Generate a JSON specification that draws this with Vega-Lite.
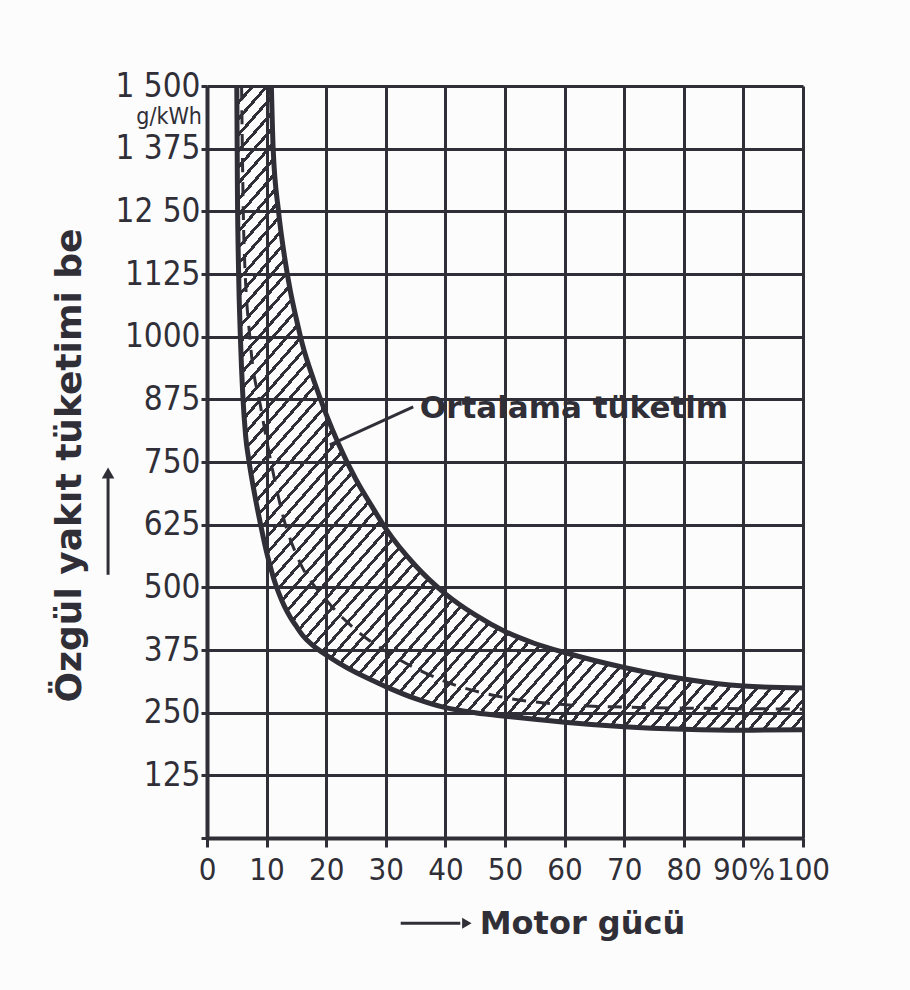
{
  "$schema": "https://vega.github.io/schema/vega-lite/v6.json",
  "width": 596,
  "height": 752,
  "autosize": {"type": "none"},
  "padding": {"left": 207, "top": 86, "right": 107, "bottom": 152},
  "background": "#fcfcfd",
  "config": {
    "view": {"stroke": null},
    "axis": {
      "grid": true, "gridColor": "#302f37", "gridWidth": 3, "gridOpacity": 1,
      "domainColor": "#302f37", "domainWidth": 4,
      "tickColor": "#302f37", "tickWidth": 3,
      "labelColor": "#302f37", "titleColor": "#302f37",
      "labelFont": "DejaVu Sans Condensed",
      "titleFont": "DejaVu Sans", "titleFontWeight": "bold",
      "labelFlush": false, "labelOverlap": false
    }
  },
  "datasets": {
    "band": [
      {"x": 5.0, "lo": 1500, "hi": 1500},
      {"x": 5.1, "lo": 1300, "hi": 1500},
      {"x": 5.3, "lo": 1130, "hi": 1500},
      {"x": 5.6, "lo": 1000, "hi": 1500},
      {"x": 6.0, "lo": 885, "hi": 1500},
      {"x": 6.5, "lo": 800, "hi": 1500},
      {"x": 7, "lo": 755, "hi": 1500},
      {"x": 8, "lo": 685, "hi": 1500},
      {"x": 9, "lo": 625, "hi": 1500},
      {"x": 10, "lo": 570, "hi": 1500},
      {"x": 10.8, "lo": 534, "hi": 1500},
      {"x": 11.1, "lo": 521, "hi": 1375},
      {"x": 12, "lo": 490, "hi": 1250},
      {"x": 13, "lo": 462, "hi": 1160},
      {"x": 14, "lo": 440, "hi": 1090},
      {"x": 15, "lo": 422, "hi": 1035},
      {"x": 16, "lo": 405, "hi": 985},
      {"x": 18, "lo": 382, "hi": 910},
      {"x": 20, "lo": 365, "hi": 845},
      {"x": 22, "lo": 350, "hi": 788},
      {"x": 25, "lo": 330, "hi": 715},
      {"x": 28, "lo": 313, "hi": 655},
      {"x": 30, "lo": 302, "hi": 617},
      {"x": 35, "lo": 278, "hi": 543},
      {"x": 40, "lo": 260, "hi": 487},
      {"x": 45, "lo": 250, "hi": 445},
      {"x": 50, "lo": 243, "hi": 412},
      {"x": 55, "lo": 237, "hi": 388},
      {"x": 60, "lo": 231, "hi": 370},
      {"x": 70, "lo": 222, "hi": 340},
      {"x": 80, "lo": 217, "hi": 317},
      {"x": 90, "lo": 215, "hi": 303},
      {"x": 100, "lo": 216, "hi": 299}
    ],
    "mean": [
      {"x": 5.8, "y": 1500},
      {"x": 6.2, "y": 1190},
      {"x": 7.3, "y": 985},
      {"x": 9, "y": 860},
      {"x": 10.9, "y": 740},
      {"x": 12.8, "y": 640},
      {"x": 15.5, "y": 552},
      {"x": 20, "y": 475},
      {"x": 25, "y": 415},
      {"x": 31, "y": 365},
      {"x": 40, "y": 312},
      {"x": 50, "y": 280},
      {"x": 60, "y": 266},
      {"x": 70, "y": 261},
      {"x": 80, "y": 259},
      {"x": 90, "y": 258},
      {"x": 100, "y": 257}
    ],
    "note": [{"x": 20.6, "y": 784, "x2": 34.6, "y2": 860, "label": "Ortalama tüketim", "tx": 35.7, "ty": 856}],
    "unit": [{"x": 0, "y": 1438, "label": "g/kWh"}],
    "yarrow": [{"x": -16.6, "y": 525, "y2": 718, "tip": 728}],
    "xarrow": [{"x": 32.5, "x2": 42.5, "y": -170, "tip": 43.6}]
  },
  "layer": [
    {
      "data": {"name": "band"},
      "mark": {
        "type": "area", "interpolate": "monotone", "clip": true,
        "fill": {
          "gradient": "linear", "x1": 0, "y1": 0, "x2": 1, "y2": 1,
          "stops": [
{"offset":0,"color":"rgba(255,255,255,0)"},{"offset":0,"color":"#302f37"},{"offset":0.0035,"color":"#302f37"},{"offset":0.0035,"color":"rgba(255,255,255,0)"},
{"offset":0.0125,"color":"rgba(255,255,255,0)"},{"offset":0.0125,"color":"#302f37"},{"offset":0.016,"color":"#302f37"},{"offset":0.016,"color":"rgba(255,255,255,0)"},
{"offset":0.025,"color":"rgba(255,255,255,0)"},{"offset":0.025,"color":"#302f37"},{"offset":0.0285,"color":"#302f37"},{"offset":0.0285,"color":"rgba(255,255,255,0)"},
{"offset":0.0375,"color":"rgba(255,255,255,0)"},{"offset":0.0375,"color":"#302f37"},{"offset":0.041,"color":"#302f37"},{"offset":0.041,"color":"rgba(255,255,255,0)"},
{"offset":0.05,"color":"rgba(255,255,255,0)"},{"offset":0.05,"color":"#302f37"},{"offset":0.0535,"color":"#302f37"},{"offset":0.0535,"color":"rgba(255,255,255,0)"},
{"offset":0.0625,"color":"rgba(255,255,255,0)"},{"offset":0.0625,"color":"#302f37"},{"offset":0.066,"color":"#302f37"},{"offset":0.066,"color":"rgba(255,255,255,0)"},
{"offset":0.075,"color":"rgba(255,255,255,0)"},{"offset":0.075,"color":"#302f37"},{"offset":0.0785,"color":"#302f37"},{"offset":0.0785,"color":"rgba(255,255,255,0)"},
{"offset":0.0875,"color":"rgba(255,255,255,0)"},{"offset":0.0875,"color":"#302f37"},{"offset":0.091,"color":"#302f37"},{"offset":0.091,"color":"rgba(255,255,255,0)"},
{"offset":0.1,"color":"rgba(255,255,255,0)"},{"offset":0.1,"color":"#302f37"},{"offset":0.1035,"color":"#302f37"},{"offset":0.1035,"color":"rgba(255,255,255,0)"},
{"offset":0.1125,"color":"rgba(255,255,255,0)"},{"offset":0.1125,"color":"#302f37"},{"offset":0.116,"color":"#302f37"},{"offset":0.116,"color":"rgba(255,255,255,0)"},
{"offset":0.125,"color":"rgba(255,255,255,0)"},{"offset":0.125,"color":"#302f37"},{"offset":0.1285,"color":"#302f37"},{"offset":0.1285,"color":"rgba(255,255,255,0)"},
{"offset":0.1375,"color":"rgba(255,255,255,0)"},{"offset":0.1375,"color":"#302f37"},{"offset":0.141,"color":"#302f37"},{"offset":0.141,"color":"rgba(255,255,255,0)"},
{"offset":0.15,"color":"rgba(255,255,255,0)"},{"offset":0.15,"color":"#302f37"},{"offset":0.1535,"color":"#302f37"},{"offset":0.1535,"color":"rgba(255,255,255,0)"},
{"offset":0.1625,"color":"rgba(255,255,255,0)"},{"offset":0.1625,"color":"#302f37"},{"offset":0.166,"color":"#302f37"},{"offset":0.166,"color":"rgba(255,255,255,0)"},
{"offset":0.175,"color":"rgba(255,255,255,0)"},{"offset":0.175,"color":"#302f37"},{"offset":0.1785,"color":"#302f37"},{"offset":0.1785,"color":"rgba(255,255,255,0)"},
{"offset":0.1875,"color":"rgba(255,255,255,0)"},{"offset":0.1875,"color":"#302f37"},{"offset":0.191,"color":"#302f37"},{"offset":0.191,"color":"rgba(255,255,255,0)"},
{"offset":0.2,"color":"rgba(255,255,255,0)"},{"offset":0.2,"color":"#302f37"},{"offset":0.2035,"color":"#302f37"},{"offset":0.2035,"color":"rgba(255,255,255,0)"},
{"offset":0.2125,"color":"rgba(255,255,255,0)"},{"offset":0.2125,"color":"#302f37"},{"offset":0.216,"color":"#302f37"},{"offset":0.216,"color":"rgba(255,255,255,0)"},
{"offset":0.225,"color":"rgba(255,255,255,0)"},{"offset":0.225,"color":"#302f37"},{"offset":0.2285,"color":"#302f37"},{"offset":0.2285,"color":"rgba(255,255,255,0)"},
{"offset":0.2375,"color":"rgba(255,255,255,0)"},{"offset":0.2375,"color":"#302f37"},{"offset":0.241,"color":"#302f37"},{"offset":0.241,"color":"rgba(255,255,255,0)"},
{"offset":0.25,"color":"rgba(255,255,255,0)"},{"offset":0.25,"color":"#302f37"},{"offset":0.2535,"color":"#302f37"},{"offset":0.2535,"color":"rgba(255,255,255,0)"},
{"offset":0.2625,"color":"rgba(255,255,255,0)"},{"offset":0.2625,"color":"#302f37"},{"offset":0.266,"color":"#302f37"},{"offset":0.266,"color":"rgba(255,255,255,0)"},
{"offset":0.275,"color":"rgba(255,255,255,0)"},{"offset":0.275,"color":"#302f37"},{"offset":0.2785,"color":"#302f37"},{"offset":0.2785,"color":"rgba(255,255,255,0)"},
{"offset":0.2875,"color":"rgba(255,255,255,0)"},{"offset":0.2875,"color":"#302f37"},{"offset":0.291,"color":"#302f37"},{"offset":0.291,"color":"rgba(255,255,255,0)"},
{"offset":0.3,"color":"rgba(255,255,255,0)"},{"offset":0.3,"color":"#302f37"},{"offset":0.3035,"color":"#302f37"},{"offset":0.3035,"color":"rgba(255,255,255,0)"},
{"offset":0.3125,"color":"rgba(255,255,255,0)"},{"offset":0.3125,"color":"#302f37"},{"offset":0.316,"color":"#302f37"},{"offset":0.316,"color":"rgba(255,255,255,0)"},
{"offset":0.325,"color":"rgba(255,255,255,0)"},{"offset":0.325,"color":"#302f37"},{"offset":0.3285,"color":"#302f37"},{"offset":0.3285,"color":"rgba(255,255,255,0)"},
{"offset":0.3375,"color":"rgba(255,255,255,0)"},{"offset":0.3375,"color":"#302f37"},{"offset":0.341,"color":"#302f37"},{"offset":0.341,"color":"rgba(255,255,255,0)"},
{"offset":0.35,"color":"rgba(255,255,255,0)"},{"offset":0.35,"color":"#302f37"},{"offset":0.3535,"color":"#302f37"},{"offset":0.3535,"color":"rgba(255,255,255,0)"},
{"offset":0.3625,"color":"rgba(255,255,255,0)"},{"offset":0.3625,"color":"#302f37"},{"offset":0.366,"color":"#302f37"},{"offset":0.366,"color":"rgba(255,255,255,0)"},
{"offset":0.375,"color":"rgba(255,255,255,0)"},{"offset":0.375,"color":"#302f37"},{"offset":0.3785,"color":"#302f37"},{"offset":0.3785,"color":"rgba(255,255,255,0)"},
{"offset":0.3875,"color":"rgba(255,255,255,0)"},{"offset":0.3875,"color":"#302f37"},{"offset":0.391,"color":"#302f37"},{"offset":0.391,"color":"rgba(255,255,255,0)"},
{"offset":0.4,"color":"rgba(255,255,255,0)"},{"offset":0.4,"color":"#302f37"},{"offset":0.4035,"color":"#302f37"},{"offset":0.4035,"color":"rgba(255,255,255,0)"},
{"offset":0.4125,"color":"rgba(255,255,255,0)"},{"offset":0.4125,"color":"#302f37"},{"offset":0.416,"color":"#302f37"},{"offset":0.416,"color":"rgba(255,255,255,0)"},
{"offset":0.425,"color":"rgba(255,255,255,0)"},{"offset":0.425,"color":"#302f37"},{"offset":0.4285,"color":"#302f37"},{"offset":0.4285,"color":"rgba(255,255,255,0)"},
{"offset":0.4375,"color":"rgba(255,255,255,0)"},{"offset":0.4375,"color":"#302f37"},{"offset":0.441,"color":"#302f37"},{"offset":0.441,"color":"rgba(255,255,255,0)"},
{"offset":0.45,"color":"rgba(255,255,255,0)"},{"offset":0.45,"color":"#302f37"},{"offset":0.4535,"color":"#302f37"},{"offset":0.4535,"color":"rgba(255,255,255,0)"},
{"offset":0.4625,"color":"rgba(255,255,255,0)"},{"offset":0.4625,"color":"#302f37"},{"offset":0.466,"color":"#302f37"},{"offset":0.466,"color":"rgba(255,255,255,0)"},
{"offset":0.475,"color":"rgba(255,255,255,0)"},{"offset":0.475,"color":"#302f37"},{"offset":0.4785,"color":"#302f37"},{"offset":0.4785,"color":"rgba(255,255,255,0)"},
{"offset":0.4875,"color":"rgba(255,255,255,0)"},{"offset":0.4875,"color":"#302f37"},{"offset":0.491,"color":"#302f37"},{"offset":0.491,"color":"rgba(255,255,255,0)"},
{"offset":0.5,"color":"rgba(255,255,255,0)"},{"offset":0.5,"color":"#302f37"},{"offset":0.5035,"color":"#302f37"},{"offset":0.5035,"color":"rgba(255,255,255,0)"},
{"offset":0.5125,"color":"rgba(255,255,255,0)"},{"offset":0.5125,"color":"#302f37"},{"offset":0.516,"color":"#302f37"},{"offset":0.516,"color":"rgba(255,255,255,0)"},
{"offset":0.525,"color":"rgba(255,255,255,0)"},{"offset":0.525,"color":"#302f37"},{"offset":0.5285,"color":"#302f37"},{"offset":0.5285,"color":"rgba(255,255,255,0)"},
{"offset":0.5375,"color":"rgba(255,255,255,0)"},{"offset":0.5375,"color":"#302f37"},{"offset":0.541,"color":"#302f37"},{"offset":0.541,"color":"rgba(255,255,255,0)"},
{"offset":0.55,"color":"rgba(255,255,255,0)"},{"offset":0.55,"color":"#302f37"},{"offset":0.5535,"color":"#302f37"},{"offset":0.5535,"color":"rgba(255,255,255,0)"},
{"offset":0.5625,"color":"rgba(255,255,255,0)"},{"offset":0.5625,"color":"#302f37"},{"offset":0.566,"color":"#302f37"},{"offset":0.566,"color":"rgba(255,255,255,0)"},
{"offset":0.575,"color":"rgba(255,255,255,0)"},{"offset":0.575,"color":"#302f37"},{"offset":0.5785,"color":"#302f37"},{"offset":0.5785,"color":"rgba(255,255,255,0)"},
{"offset":0.5875,"color":"rgba(255,255,255,0)"},{"offset":0.5875,"color":"#302f37"},{"offset":0.591,"color":"#302f37"},{"offset":0.591,"color":"rgba(255,255,255,0)"},
{"offset":0.6,"color":"rgba(255,255,255,0)"},{"offset":0.6,"color":"#302f37"},{"offset":0.6035,"color":"#302f37"},{"offset":0.6035,"color":"rgba(255,255,255,0)"},
{"offset":0.6125,"color":"rgba(255,255,255,0)"},{"offset":0.6125,"color":"#302f37"},{"offset":0.616,"color":"#302f37"},{"offset":0.616,"color":"rgba(255,255,255,0)"},
{"offset":0.625,"color":"rgba(255,255,255,0)"},{"offset":0.625,"color":"#302f37"},{"offset":0.6285,"color":"#302f37"},{"offset":0.6285,"color":"rgba(255,255,255,0)"},
{"offset":0.6375,"color":"rgba(255,255,255,0)"},{"offset":0.6375,"color":"#302f37"},{"offset":0.641,"color":"#302f37"},{"offset":0.641,"color":"rgba(255,255,255,0)"},
{"offset":0.65,"color":"rgba(255,255,255,0)"},{"offset":0.65,"color":"#302f37"},{"offset":0.6535,"color":"#302f37"},{"offset":0.6535,"color":"rgba(255,255,255,0)"},
{"offset":0.6625,"color":"rgba(255,255,255,0)"},{"offset":0.6625,"color":"#302f37"},{"offset":0.666,"color":"#302f37"},{"offset":0.666,"color":"rgba(255,255,255,0)"},
{"offset":0.675,"color":"rgba(255,255,255,0)"},{"offset":0.675,"color":"#302f37"},{"offset":0.6785,"color":"#302f37"},{"offset":0.6785,"color":"rgba(255,255,255,0)"},
{"offset":0.6875,"color":"rgba(255,255,255,0)"},{"offset":0.6875,"color":"#302f37"},{"offset":0.691,"color":"#302f37"},{"offset":0.691,"color":"rgba(255,255,255,0)"},
{"offset":0.7,"color":"rgba(255,255,255,0)"},{"offset":0.7,"color":"#302f37"},{"offset":0.7035,"color":"#302f37"},{"offset":0.7035,"color":"rgba(255,255,255,0)"},
{"offset":0.7125,"color":"rgba(255,255,255,0)"},{"offset":0.7125,"color":"#302f37"},{"offset":0.716,"color":"#302f37"},{"offset":0.716,"color":"rgba(255,255,255,0)"},
{"offset":0.725,"color":"rgba(255,255,255,0)"},{"offset":0.725,"color":"#302f37"},{"offset":0.7285,"color":"#302f37"},{"offset":0.7285,"color":"rgba(255,255,255,0)"},
{"offset":0.7375,"color":"rgba(255,255,255,0)"},{"offset":0.7375,"color":"#302f37"},{"offset":0.741,"color":"#302f37"},{"offset":0.741,"color":"rgba(255,255,255,0)"},
{"offset":0.75,"color":"rgba(255,255,255,0)"},{"offset":0.75,"color":"#302f37"},{"offset":0.7535,"color":"#302f37"},{"offset":0.7535,"color":"rgba(255,255,255,0)"},
{"offset":0.7625,"color":"rgba(255,255,255,0)"},{"offset":0.7625,"color":"#302f37"},{"offset":0.766,"color":"#302f37"},{"offset":0.766,"color":"rgba(255,255,255,0)"},
{"offset":0.775,"color":"rgba(255,255,255,0)"},{"offset":0.775,"color":"#302f37"},{"offset":0.7785,"color":"#302f37"},{"offset":0.7785,"color":"rgba(255,255,255,0)"},
{"offset":0.7875,"color":"rgba(255,255,255,0)"},{"offset":0.7875,"color":"#302f37"},{"offset":0.791,"color":"#302f37"},{"offset":0.791,"color":"rgba(255,255,255,0)"},
{"offset":0.8,"color":"rgba(255,255,255,0)"},{"offset":0.8,"color":"#302f37"},{"offset":0.8035,"color":"#302f37"},{"offset":0.8035,"color":"rgba(255,255,255,0)"},
{"offset":0.8125,"color":"rgba(255,255,255,0)"},{"offset":0.8125,"color":"#302f37"},{"offset":0.816,"color":"#302f37"},{"offset":0.816,"color":"rgba(255,255,255,0)"},
{"offset":0.825,"color":"rgba(255,255,255,0)"},{"offset":0.825,"color":"#302f37"},{"offset":0.8285,"color":"#302f37"},{"offset":0.8285,"color":"rgba(255,255,255,0)"},
{"offset":0.8375,"color":"rgba(255,255,255,0)"},{"offset":0.8375,"color":"#302f37"},{"offset":0.841,"color":"#302f37"},{"offset":0.841,"color":"rgba(255,255,255,0)"},
{"offset":0.85,"color":"rgba(255,255,255,0)"},{"offset":0.85,"color":"#302f37"},{"offset":0.8535,"color":"#302f37"},{"offset":0.8535,"color":"rgba(255,255,255,0)"},
{"offset":0.8625,"color":"rgba(255,255,255,0)"},{"offset":0.8625,"color":"#302f37"},{"offset":0.866,"color":"#302f37"},{"offset":0.866,"color":"rgba(255,255,255,0)"},
{"offset":0.875,"color":"rgba(255,255,255,0)"},{"offset":0.875,"color":"#302f37"},{"offset":0.8785,"color":"#302f37"},{"offset":0.8785,"color":"rgba(255,255,255,0)"},
{"offset":0.8875,"color":"rgba(255,255,255,0)"},{"offset":0.8875,"color":"#302f37"},{"offset":0.891,"color":"#302f37"},{"offset":0.891,"color":"rgba(255,255,255,0)"},
{"offset":0.9,"color":"rgba(255,255,255,0)"},{"offset":0.9,"color":"#302f37"},{"offset":0.9035,"color":"#302f37"},{"offset":0.9035,"color":"rgba(255,255,255,0)"},
{"offset":0.9125,"color":"rgba(255,255,255,0)"},{"offset":0.9125,"color":"#302f37"},{"offset":0.916,"color":"#302f37"},{"offset":0.916,"color":"rgba(255,255,255,0)"},
{"offset":0.925,"color":"rgba(255,255,255,0)"},{"offset":0.925,"color":"#302f37"},{"offset":0.9285,"color":"#302f37"},{"offset":0.9285,"color":"rgba(255,255,255,0)"},
{"offset":0.9375,"color":"rgba(255,255,255,0)"},{"offset":0.9375,"color":"#302f37"},{"offset":0.941,"color":"#302f37"},{"offset":0.941,"color":"rgba(255,255,255,0)"},
{"offset":0.95,"color":"rgba(255,255,255,0)"},{"offset":0.95,"color":"#302f37"},{"offset":0.9535,"color":"#302f37"},{"offset":0.9535,"color":"rgba(255,255,255,0)"},
{"offset":0.9625,"color":"rgba(255,255,255,0)"},{"offset":0.9625,"color":"#302f37"},{"offset":0.966,"color":"#302f37"},{"offset":0.966,"color":"rgba(255,255,255,0)"},
{"offset":0.975,"color":"rgba(255,255,255,0)"},{"offset":0.975,"color":"#302f37"},{"offset":0.9785,"color":"#302f37"},{"offset":0.9785,"color":"rgba(255,255,255,0)"},
{"offset":0.9875,"color":"rgba(255,255,255,0)"},{"offset":0.9875,"color":"#302f37"},{"offset":0.991,"color":"#302f37"},{"offset":0.991,"color":"rgba(255,255,255,0)"},
{"offset":1,"color":"rgba(255,255,255,0)"}
          ]
        }
      },
      "encoding": {
        "x": {
          "field": "x", "type": "quantitative",
          "scale": {"domain": [0, 100], "nice": false, "zero": false},
          "axis": {
            "values": [0, 10, 20, 30, 40, 50, 60, 70, 80, 90, 100],
            "labelExpr": "datum.value == 90 ? '90%' : datum.label",
            "tickSize": 9, "labelPadding": 8, "labelFontSize": 31,
            "title": "Motor gücü", "titleFontSize": 32,
            "titleX": 375, "titleY": 95, "titleAlign": "center", "titleBaseline": "alphabetic",
            "encode": {"labels": {"update": {
              "dx": {"signal": "datum.value === 0 ? -20 : datum.value === 90 ? 11 : datum.value === 100 ? 9 : 0"},
              "dy": {"signal": "datum.value === 0 ? -6 : 0"}
            }}}
          }
        },
        "y": {
          "field": "lo", "type": "quantitative",
          "scale": {"domain": [0, 1500], "nice": false, "zero": false},
          "axis": {
            "values": [0, 125, 250, 375, 500, 625, 750, 875, 1000, 1125, 1250, 1375, 1500],
            "format": "d",
            "labelExpr": "datum.value == 0 ? '' : datum.value == 1500 ? '1 500' : datum.value == 1375 ? '1 375' : datum.value == 1250 ? '12 50' : datum.label",
            "tickSize": 6, "labelPadding": 1, "labelFontSize": 33,
            "title": "Özgül yakıt tüketimi be", "titleFontSize": 36,
            "titleX": -127, "titleY": 379, "titleAlign": "center", "titleBaseline": "alphabetic", "titleAngle": -90
          }
        },
        "y2": {"field": "hi"}
      }
    },
    {
      "data": {"name": "band"},
      "mark": {"type": "line", "interpolate": "monotone", "color": "#302f37", "strokeWidth": 5, "clip": true},
      "encoding": {
        "x": {"field": "x", "type": "quantitative"},
        "y": {"field": "lo", "type": "quantitative"}
      }
    },
    {
      "data": {"name": "band"},
      "transform": [{"filter": "datum.x >= 10.8"}],
      "mark": {"type": "line", "interpolate": "monotone", "color": "#302f37", "strokeWidth": 5, "clip": true},
      "encoding": {
        "x": {"field": "x", "type": "quantitative"},
        "y": {"field": "hi", "type": "quantitative"}
      }
    },
    {
      "data": {"name": "mean"},
      "mark": {"type": "line", "interpolate": "monotone", "color": "#302f37", "strokeWidth": 3, "strokeDash": [14, 10], "clip": true},
      "encoding": {
        "x": {"field": "x", "type": "quantitative"},
        "y": {"field": "y", "type": "quantitative"}
      }
    },
    {
      "data": {"name": "note"},
      "mark": {"type": "rule", "color": "#302f37", "strokeWidth": 3},
      "encoding": {
        "x": {"field": "x", "type": "quantitative"},
        "y": {"field": "y", "type": "quantitative"},
        "x2": {"field": "x2"},
        "y2": {"field": "y2"}
      }
    },
    {
      "data": {"name": "note"},
      "mark": {"type": "text", "align": "left", "baseline": "middle", "font": "DejaVu Sans", "fontWeight": "bold", "fontSize": 31, "color": "#302f37"},
      "encoding": {
        "x": {"field": "tx", "type": "quantitative"},
        "y": {"field": "ty", "type": "quantitative"},
        "text": {"field": "label"}
      }
    },
    {
      "data": {"name": "unit"},
      "mark": {"type": "text", "align": "right", "baseline": "middle", "dx": -5, "font": "DejaVu Sans Condensed", "fontSize": 23, "color": "#302f37"},
      "encoding": {
        "x": {"field": "x", "type": "quantitative"},
        "y": {"field": "y", "type": "quantitative"},
        "text": {"field": "label"}
      }
    },
    {
      "data": {"name": "yarrow"},
      "mark": {"type": "rule", "color": "#302f37", "strokeWidth": 3},
      "encoding": {
        "x": {"field": "x", "type": "quantitative"},
        "y": {"field": "y", "type": "quantitative"},
        "y2": {"field": "y2"}
      }
    },
    {
      "data": {"name": "yarrow"},
      "mark": {"type": "point", "shape": "triangle-up", "filled": true, "size": 160, "color": "#302f37", "opacity": 1},
      "encoding": {
        "x": {"field": "x", "type": "quantitative"},
        "y": {"field": "tip", "type": "quantitative"}
      }
    },
    {
      "data": {"name": "xarrow"},
      "mark": {"type": "rule", "color": "#302f37", "strokeWidth": 3},
      "encoding": {
        "x": {"field": "x", "type": "quantitative"},
        "x2": {"field": "x2"},
        "y": {"field": "y", "type": "quantitative"}
      }
    },
    {
      "data": {"name": "xarrow"},
      "mark": {"type": "point", "shape": "triangle-right", "filled": true, "size": 120, "color": "#302f37", "opacity": 1},
      "encoding": {
        "x": {"field": "tip", "type": "quantitative"},
        "y": {"field": "y", "type": "quantitative"}
      }
    }
  ]
}
